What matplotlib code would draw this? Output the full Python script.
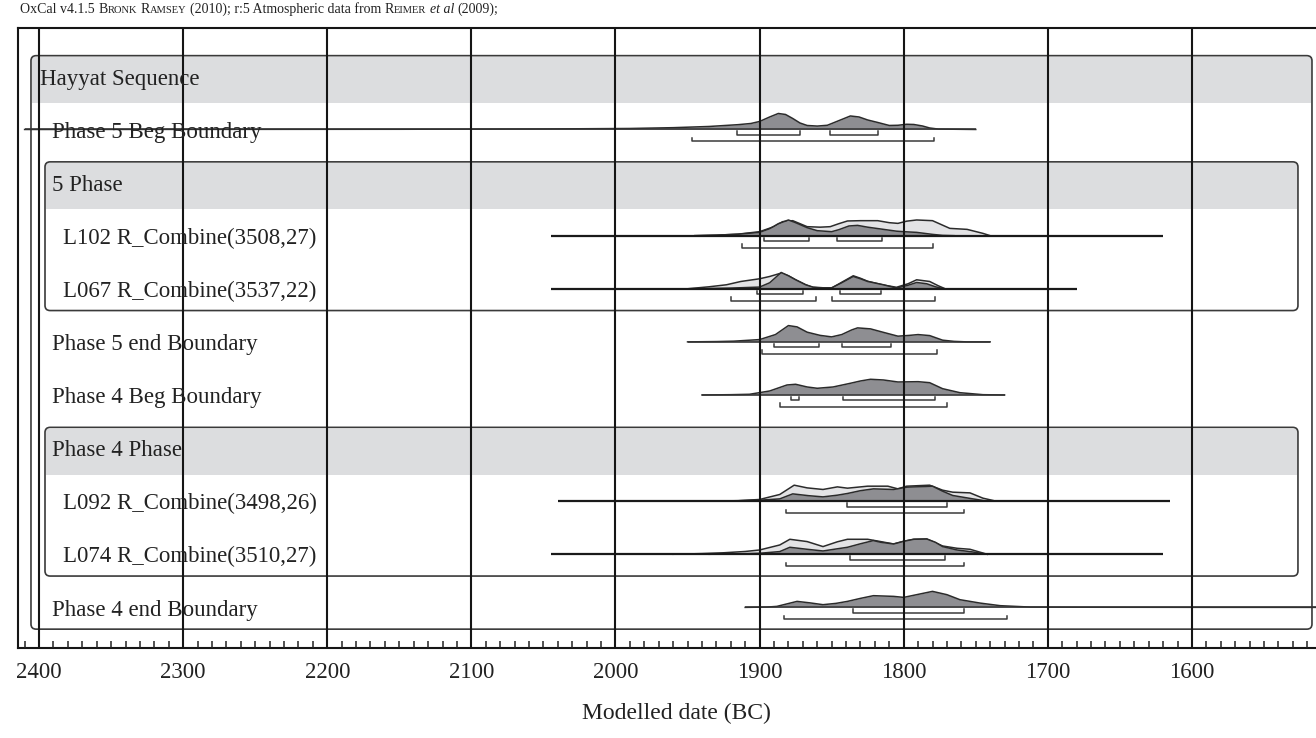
import matplotlib
matplotlib.use("Agg")
import matplotlib.pyplot as plt
from matplotlib.patches import FancyBboxPatch, Rectangle
from matplotlib.ticker import MultipleLocator
import matplotlib.transforms as mtransforms

plt.rcParams['font.family'] = ['Liberation Serif', 'DejaVu Serif']

# ---- data (years BC, relative probability) ----
labels = ["Phase 5 Beg Boundary", "L102 R_Combine(3508,27)", "L067 R_Combine(3537,22)",
          "Phase 5 end Boundary", "Phase 4 Beg Boundary", "L092 R_Combine(3498,26)",
          "L074 R_Combine(3510,27)", "Phase 4 end Boundary"]
slots = [1, 3, 4, 5, 6, 8, 9, 10]
indented = [False, True, True, False, False, True, True, False]

# calculation range of each row (start, end)
extents = [(2410, 1750), (2045, 1620), (2045, 1680), (1950, 1740),
           (1940, 1730), (2040, 1615), (2045, 1620), (1910, 1514)]

# posterior (modelled) distributions
post_years = [
    [2410, 2150, 2050, 1990, 1960, 1935, 1915, 1906, 1900, 1893, 1887, 1882, 1877, 1872, 1867, 1860,
     1853, 1849, 1843, 1837, 1831, 1825, 1818, 1810, 1804, 1798, 1793, 1787, 1782, 1776, 1750],
    [1945, 1930, 1915, 1900, 1893, 1887, 1880, 1875, 1867, 1860, 1850, 1845, 1838, 1832, 1825,
     1814, 1805, 1800, 1791, 1780, 1773, 1765],
    [1950, 1935, 1920, 1910, 1900, 1893, 1885, 1880, 1875, 1868, 1863, 1856, 1850, 1843, 1835,
     1830, 1825, 1814, 1805, 1797, 1791, 1784, 1778, 1773],
    [1950, 1930, 1918, 1900, 1889, 1880, 1874, 1867, 1858, 1850, 1843, 1836, 1832, 1823, 1814,
     1804, 1796, 1790, 1782, 1773, 1765, 1756, 1740],
    [1940, 1920, 1907, 1893, 1881, 1875, 1867, 1860, 1849, 1837, 1830, 1823, 1814, 1804, 1790,
     1782, 1773, 1761, 1745, 1730],
    [1935, 1915, 1900, 1886, 1877, 1866, 1856, 1846, 1839, 1830, 1821, 1814, 1807, 1798, 1788,
     1780, 1773, 1766, 1752, 1742],
    [1935, 1915, 1900, 1886, 1879, 1867, 1856, 1846, 1839, 1830, 1821, 1816, 1807, 1800, 1793,
     1784, 1778, 1773, 1763, 1752, 1742],
    [1910, 1895, 1888, 1881, 1874, 1865, 1856, 1847, 1839, 1830, 1821, 1807, 1800, 1790, 1780,
     1770, 1761, 1747, 1733, 1712, 1680, 1640, 1600, 1514],
]
post_prob = [
    [0, 0.2, 0.5, 1.0, 1.8, 3.0, 4.8, 6.0, 8.0, 12.5, 16.0, 15.0, 11.0, 6.5, 4.0, 3.4,
     4.2, 6.5, 10.0, 13.5, 12.5, 9.5, 7.0, 4.0, 4.2, 5.2, 5.0, 3.5, 1.5, 0.4, 0],
    [0, 0.5, 1.5, 3.3, 7, 12, 15.7, 13, 8, 5, 4, 6, 9.7, 10.3, 8.5, 6.3, 4.5, 4, 3.3, 1.3, 0.3, 0],
    [0, 0.3, 0.7, 1.2, 1.7, 6, 16.3, 13, 9, 4, 1.7, 1.0, 1.0, 6, 12.3, 10, 7.3, 4, 0.7, 3.5,
     6.3, 5, 2, 0.3],
    [0, 0.3, 0.7, 2.3, 7.3, 16.3, 15, 9.7, 6.5, 5, 7.3, 12, 14, 13, 9.5, 5.7, 6.5, 7.3, 6.3,
     1.7, 0.5, 0, 0],
    [0, 0.3, 0.7, 4, 10, 10.7, 8, 6.7, 8, 11.7, 14, 15.7, 15, 13, 13.3, 12.3, 6.3, 2.3, 0.3, 0],
    [0, 0.4, 1, 2.3, 7.3, 5.5, 4.3, 6, 7.7, 10.5, 12.3, 12, 11.7, 14, 14.5, 15, 10, 5.7, 2.3, 0],
    [0, 0.4, 1, 2.7, 7, 5, 3.3, 5.5, 7, 10.5, 13.7, 12, 10.3, 13, 15, 15.3, 12, 7.7, 4.3, 2.3, 0],
    [0, 0.3, 1, 3.5, 6, 4.5, 2.7, 4, 6, 9, 11.7, 11, 10, 13, 16, 12.7, 7.7, 4.3, 1.7, 0.3,
     0.15, 0.1, 0.05, 0],
]

# likelihood (unmodelled) distributions, only for the R_Combine rows
prior_years = {
    1: [1945, 1930, 1915, 1900, 1890, 1884, 1877, 1867, 1858, 1851, 1845, 1839, 1830, 1818,
        1810, 1804, 1798, 1791, 1780, 1768, 1756, 1745, 1740],
    2: [1950, 1935, 1923, 1913, 1900, 1893, 1885, 1880, 1875, 1868, 1863, 1856, 1850, 1843,
        1835, 1830, 1825, 1814, 1805, 1797, 1791, 1782, 1776, 1772],
    5: [1935, 1915, 1900, 1886, 1876, 1867, 1856, 1846, 1839, 1825, 1811, 1804, 1798, 1790,
        1782, 1773, 1766, 1754, 1745, 1738],
    6: [1960, 1940, 1925, 1910, 1900, 1886, 1879, 1867, 1856, 1846, 1839, 1825, 1816, 1807,
        1800, 1793, 1784, 1773, 1763, 1754, 1742],
}
prior_prob = {
    1: [0, 0.5, 1.5, 4, 9, 14, 15, 9, 8.5, 9, 12, 14.7, 15, 15, 13, 12.3, 14.5, 15.7, 15, 7.3,
        6.3, 2.3, 0],
    2: [0, 2, 4, 7.3, 10, 12.3, 15.7, 13, 9, 4, 1.3, 0.7, 0.7, 6.5, 13, 10.5, 7.5, 3.7, 1.5,
        5, 9, 7.3, 3, 0.5],
    5: [0, 0.5, 1.7, 6.7, 16, 13.3, 11.7, 14.3, 13, 15, 15, 12.3, 15, 15.5, 16, 11, 9, 8.3, 3, 0.7],
    6: [0, 0.7, 1.5, 2.8, 4.3, 9.3, 15, 12.7, 7.7, 12.5, 15, 15, 12.7, 10.3, 13, 15, 15.3, 8.3,
        6, 5, 0],
}

# highest posterior density ranges
hpd68 = [[(1916, 1872), (1851, 1818)], [(1897, 1866), (1846, 1815)], [(1902, 1870), (1844, 1816)],
         [(1890, 1859), (1843, 1809)], [(1878, 1873), (1842, 1778)], [(1839, 1770)],
         [(1837, 1771)], [(1835, 1758)]]
hpd95 = [[(1947, 1779)], [(1912, 1780)], [(1920, 1861), (1850, 1778)], [(1898, 1777)],
         [(1886, 1770)], [(1882, 1758)], [(1882, 1758)], [(1883, 1728)]]

# grouping boxes: (header text, first slot, last slot)
groups = [("Hayyat Sequence", 0, 10), ("5 Phase", 2, 4), ("Phase 4 Phase", 7, 9)]

tick_years = [2400, 2300, 2200, 2100, 2000, 1900, 1800, 1700, 1600]

# ---- figure ----
W, H = 1316, 738
fig = plt.figure(figsize=(W / 100, H / 100), dpi=100)
ax = fig.add_axes([18 / W, 90 / H, (W - 18) / W, 620 / H])
ax.set_xlim(2414.6, 1513.9)
ax.set_ylim(10.765, -0.911)

hs = 1 / 53.1          # probability units -> row units
dark = '#8e8e92'
light = '#e3e3e5'
edge = '#2b2b2b'
txtcol = '#222222'

blend = mtransforms.blended_transform_factory(ax.transAxes, ax.transData)

# boxes and grey headers
box_x = [(0.010, 0.9969), (0.0208, 0.9861), (0.0208, 0.9861)]
text_x = [0.0169, 0.0262, 0.0262]
for (name, s0, s1), (x0, x1), tx in zip(groups, box_x, text_x):
    ax.add_patch(Rectangle((x0 + 0.0008, s0 - 0.36), x1 - x0 - 0.0016, 0.86,
                           transform=blend, facecolor='#dcdddf', edgecolor='none', zorder=0.5))
    ax.add_patch(FancyBboxPatch((x0, s0 - 0.39), x1 - x0, s1 - s0 + 0.80,
                                boxstyle="round,pad=0,rounding_size=0.004",
                                mutation_aspect=24, transform=blend,
                                facecolor='none', edgecolor='#3a3a3a', lw=1.2, zorder=0.6))
    ax.text(tx, s0 + 0.05, name, transform=blend, fontsize=16.5, va='center', ha='left',
            color=txtcol, zorder=3)

# rows
for i, lab in enumerate(labels):
    s = slots[i]
    tx = 0.0347 if indented[i] else 0.0262
    ax.text(tx, s + 0.05, lab, transform=blend, fontsize=16.5, va='center', ha='left',
            color=txtcol, zorder=3)
    combine = i in prior_years
    ax.plot(extents[i], [s, s], color='#1a1a1a' if combine else '#333333',
            lw=1.6 if combine else 1.1, zorder=1.5, solid_capstyle='butt')
    if combine:
        py = [s - p * hs for p in prior_prob[i]]
        ax.fill_between(prior_years[i], s, py, color=light, lw=0, zorder=1.1)
        ax.plot(prior_years[i], py, color=edge, lw=1.1, zorder=1.2)
    qy = [s - p * hs for p in post_prob[i]]
    ax.fill_between(post_years[i], s, qy, color=dark, lw=0, zorder=1.3)
    ax.plot(post_years[i], qy, color=edge, lw=1.1, zorder=1.4)
    for off, rngs in ((0.104, hpd68[i]), (0.226, hpd95[i])):
        for a, b in rngs:
            ax.plot([a, a, b, b], [s + off - 0.066, s + off, s + off, s + off - 0.066],
                    color='#3a3a3a', lw=1.1, zorder=1.6)

# axes, grid, ticks
ax.set_xticks(tick_years)
ax.set_xticklabels([str(t) for t in tick_years])
ax.xaxis.set_minor_locator(MultipleLocator(10))
ax.set_yticks([])
ax.grid(axis='x', color='#151515', lw=1.5)
ax.set_axisbelow(False)
ax.tick_params(axis='x', which='major', direction='in', length=0, pad=10, labelsize=16.5,
               colors=txtcol)
ax.tick_params(axis='x', which='minor', direction='in', length=5, width=1.1, color=txtcol)
for side in ['left', 'top', 'bottom']:
    ax.spines[side].set_linewidth(1.5)
    ax.spines[side].set_color('#151515')
ax.spines['right'].set_visible(False)

fig.text(676 / W, 1 - 713 / H, "Modelled date (BC)", ha='center', va='center', fontsize=17,
         color=txtcol)

# title with small capitals: (text, size, style, space before)
pieces = [("OxCal v4.1.5", 10, 'normal', False), ("B", 10, 'normal', True),
          ("RONK", 7.6, 'normal', False), ("R", 10, 'normal', True),
          ("AMSEY", 7.6, 'normal', False), ("(2010); r:5 Atmospheric data from", 10, 'normal', True),
          ("R", 10, 'normal', True), ("EIMER", 7.6, 'normal', False),
          ("et al", 10, 'italic', True), ("(2009);", 10, 'normal', True)]
renderer = fig.canvas.get_renderer()
xpos = 20.0
for txt, size, style, gap in pieces:
    if gap:
        xpos += 0.25 * size * 100 / 72
    t = fig.text(xpos / W, 1 - 13 / H, txt, fontsize=size, style=style, va='baseline',
                 ha='left', color=txtcol)
    xpos = t.get_window_extent(renderer).x1

fig.savefig("out.png", dpi=100)
